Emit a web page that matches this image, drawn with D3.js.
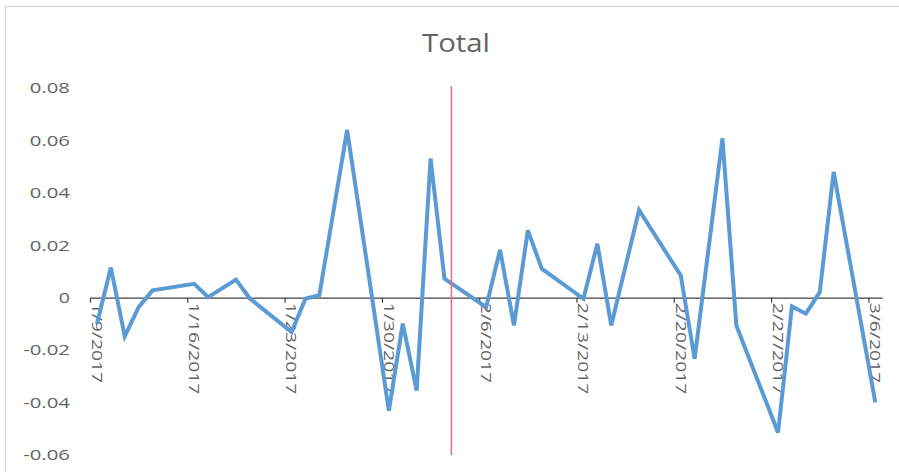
<!DOCTYPE html>
<html>
<head>
<meta charset="utf-8">
<script src="https://cdn.jsdelivr.net/npm/d3@7"></script>
<style>
  html, body { margin: 0; padding: 0; background: #fff; }
  svg { display: block; }
</style>
</head>
<body>
<script>
// ---- data ----
const chartTitle = "Total";
const dates = ["2017-01-09","2017-01-10","2017-01-11","2017-01-12","2017-01-13","2017-01-16","2017-01-17","2017-01-19","2017-01-20","2017-01-23","2017-01-24","2017-01-25","2017-01-27","2017-01-30","2017-01-31","2017-02-01","2017-02-02","2017-02-03","2017-02-06","2017-02-07","2017-02-08","2017-02-09","2017-02-10","2017-02-13","2017-02-14","2017-02-15","2017-02-17","2017-02-20","2017-02-21","2017-02-23","2017-02-24","2017-02-27","2017-02-28","2017-03-01","2017-03-02","2017-03-03","2017-03-06"];
const values = [-0.0100,0.0115,-0.0147,-0.0036,0.0028,0.0053,0.0002,0.0069,-0.0003,-0.0131,-0.0004,0.0010,0.0640,-0.0431,-0.0099,-0.0354,0.0531,0.0073,-0.0036,0.0183,-0.0106,0.0257,0.0111,-0.0004,0.0206,-0.0106,0.0334,0.0085,-0.0233,0.0608,-0.0106,-0.0514,-0.0033,-0.0061,0.0021,0.0480,-0.0399];
const xTickLabels = ["1/9/2017","1/16/2017","1/23/2017","1/30/2017","2/6/2017","2/13/2017","2/20/2017","2/27/2017","3/6/2017"];
const yTickValues = [0.08,0.06,0.04,0.02,0,-0.02,-0.04,-0.06];
const xDomain = ["2017-01-09","2017-03-07"];
const yDomain = [-0.06, 0.08];
const markerDate = "2017-02-04";

// ---- drawing ----
const W = 899, H = 472;
const parse = d3.utcParse("%Y-%m-%d");
const parseLabel = d3.utcParse("%m/%d/%Y");
const textColor = "#636363";

const svg = d3.select("body").append("svg").attr("width", W).attr("height", H);

// chart area border
svg.append("rect").attr("x", 5.5).attr("y", 6.5).attr("width", W + 10).attr("height", H + 10)
  .attr("fill", "#fff").attr("stroke", "#d9d9d9").attr("stroke-width", 1.5);

const x = d3.scaleUtc().domain(xDomain.map(parse)).range([90, 882.3]);
const y = d3.scaleLinear().domain(yDomain).range([455, 88]);
const slotCenter = d => x(d3.utcHour.offset(d, 12));

// title
svg.append("text").attr("x", 456).attr("y", 52).attr("text-anchor", "middle")
  .attr("font-family", "'Open Sans', sans-serif").attr("font-size", 25).attr("fill", textColor)
  .attr("textLength", 68).attr("lengthAdjust", "spacingAndGlyphs").text(chartTitle);

// width estimate for labels
const charW = c => (/[0-9]/.test(c) ? 11.2 : 6.6);
const tLen = s => Array.from(s).reduce((a, c) => a + charW(c), 0);
const fmtY = d => String(d);

// y labels
svg.append("g").selectAll("text").data(yTickValues).join("text")
  .attr("x", 70).attr("y", d => y(d)).attr("dy", "0.35em").attr("text-anchor", "end")
  .attr("font-family", "'Open Sans', sans-serif").attr("font-size", 15).attr("fill", textColor)
  .attr("textLength", d => tLen(fmtY(d))).attr("lengthAdjust", "spacingAndGlyphs")
  .text(d => fmtY(d));

// x axis
const tickDates = xTickLabels.map(parseLabel);
const axis = svg.append("g").attr("transform", `translate(0,${y(0)})`)
  .call(d3.axisBottom(x).tickValues(tickDates).tickSize(5).tickSizeOuter(0).tickFormat(""));
axis.select(".domain").attr("stroke", "#404040").attr("stroke-width", 1.2);
axis.selectAll(".tick line").attr("stroke", "#404040").attr("stroke-width", 1.2);

// x labels (rotated, reading downward)
svg.append("g").selectAll("text").data(xTickLabels).join("text")
  .attr("transform", d => `translate(${slotCenter(parseLabel(d))},${y(0) + 5}) rotate(90)`)
  .attr("dy", "0.35em").attr("text-anchor", "start")
  .attr("font-family", "'Open Sans', sans-serif").attr("font-size", 15).attr("fill", textColor)
  .attr("textLength", d => tLen(d)).attr("lengthAdjust", "spacingAndGlyphs")
  .text(d => d);

// series line
const pts = dates.map((d, i) => ({ date: parse(d), value: values[i] }));
const line = d3.line().x(d => slotCenter(d.date)).y(d => y(d.value));
svg.append("path").datum(pts).attr("d", line)
  .attr("fill", "none").attr("stroke", "#5B9BD5").attr("stroke-width", 4)
  .attr("stroke-linejoin", "miter").attr("stroke-linecap", "butt");

// red vertical marker
const mx = x(parse(markerDate));
svg.append("line").attr("x1", mx).attr("x2", mx).attr("y1", y(yDomain[1]) - 2).attr("y2", y(yDomain[0]))
  .attr("stroke", "#E8706E").attr("stroke-width", 1.5);
</script>
</body>
</html>
